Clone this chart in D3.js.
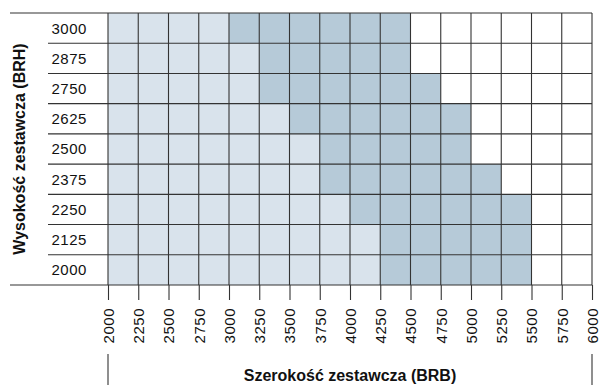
<!DOCTYPE html>
<html>
<head>
<meta charset="utf-8">
<script src="https://cdn.jsdelivr.net/npm/d3@7"></script>
<style>
  html, body { margin: 0; padding: 0; background: #fff; }
  svg { display: block; }
  .lbl { font-family: "Liberation Sans", Arial, Helvetica, sans-serif; font-size: 15px; letter-spacing: 0.5px; fill: #111; }
  .ttl { font-family: "Liberation Sans", Arial, Helvetica, sans-serif; font-size: 16px; font-weight: bold; fill: #111; }
</style>
</head>
<body>
<svg id="chart" width="600" height="385"></svg>
<script>
// Heights (BRH), listed top row first
const heights = [3000, 2875, 2750, 2625, 2500, 2375, 2250, 2125, 2000];
// Width tick labels (BRB)
const widthTicks = [2000, 2250, 2500, 2750, 3000, 3250, 3500, 3750, 4000,
                    4250, 4500, 4750, 5000, 5250, 5500, 5750, 6000];
// For each height: widths up to which the standard range (light) reaches
const standardMax = [3000, 3250, 3250, 3500, 3750, 3750, 4000, 4250, 4250];
// For each height: widths up to which the extended range (dark) reaches
const extendedMax = [4500, 4500, 4750, 5000, 5000, 5250, 5500, 5500, 5500];

const colors = { standard: "#d9e3ec", extended: "#b6cad8" };
const lineColor = "#333";

const svg = d3.select("#chart");

const gridTop = 13, gridBottom = 285;
const x = d3.scaleLinear().domain([2000, 6000]).range([108, 592]);
const y = d3.scaleBand().domain(heights).range([gridTop, gridBottom]).padding(0);

// Cells
const cells = [];
heights.forEach((h, i) => {
  for (let k = 0; k < widthTicks.length - 1; k++) {
    const w0 = widthTicks[k], w1 = widthTicks[k + 1];
    let kind = null;
    if (w1 <= standardMax[i]) kind = "standard";
    else if (w1 <= extendedMax[i]) kind = "extended";
    if (kind) cells.push({ h, w0, w1, kind });
  }
});

svg.append("g").selectAll("rect")
  .data(cells)
  .join("rect")
  .attr("x", d => x(d.w0))
  .attr("y", d => y(d.h))
  .attr("width", d => x(d.w1) - x(d.w0))
  .attr("height", y.bandwidth())
  .attr("fill", d => colors[d.kind]);

// Horizontal row lines: outer ones span the label column too
const rowEdges = heights.map(h => y(h)).concat([gridBottom]);
svg.append("g").selectAll("line")
  .data(rowEdges)
  .join("line")
  .attr("x1", (d, i) => (i === 0 || i === rowEdges.length - 1) ? 10 : 48)
  .attr("x2", x(6000))
  .attr("y1", d => d)
  .attr("y2", d => d)
  .attr("stroke", lineColor)
  .attr("stroke-width", 1.1);

// Vertical column lines from the top edge down to the ticks
svg.append("g").selectAll("line")
  .data(widthTicks)
  .join("line")
  .attr("x1", d => x(d))
  .attr("x2", d => x(d))
  .attr("y1", gridTop)
  .attr("y2", gridBottom)
  .attr("stroke", lineColor)
  .attr("stroke-width", 1.1);

// Bottom axis with rotated labels
const xAxis = svg.append("g")
  .attr("transform", `translate(0,${gridBottom})`)
  .call(d3.axisBottom(x).tickValues(widthTicks).tickFormat(d3.format("d"))
        .tickSizeInner(15).tickSizeOuter(0).tickPadding(0));
xAxis.select(".domain").remove();
xAxis.selectAll(".tick line").attr("stroke", lineColor).attr("stroke-width", 1.1);
xAxis.selectAll(".tick text")
  .attr("class", "lbl")
  .attr("font-size", null).attr("font-family", null)
  .attr("transform", "rotate(-90)")
  .attr("text-anchor", "end")
  .attr("x", -23)
  .attr("y", 0)
  .attr("dy", "0.35em");

// Left axis: row labels
const yAxis = svg.append("g")
  .attr("transform", "translate(48,0)")
  .call(d3.axisRight(y).tickSizeInner(0).tickSizeOuter(0).tickPadding(3.5));
yAxis.select(".domain").remove();
yAxis.selectAll(".tick line").remove();
yAxis.selectAll(".tick text")
  .attr("class", "lbl")
  .attr("font-size", null).attr("font-family", null)
  .attr("dy", "0.36em");

// Bracket marks under the axis ends
svg.append("g").selectAll("line")
  .data([2000, 6000])
  .join("line")
  .attr("x1", d => x(d)).attr("x2", d => x(d))
  .attr("y1", 354).attr("y2", 385)
  .attr("stroke", lineColor)
  .attr("stroke-width", 1.1);

// Axis titles
svg.append("text")
  .attr("class", "ttl")
  .attr("x", (x(2000) + x(6000)) / 2)
  .attr("y", 381)
  .attr("text-anchor", "middle")
  .text("Szerokość zestawcza (BRB)");

svg.append("text")
  .attr("class", "ttl")
  .attr("transform", `translate(25,${(gridTop + gridBottom) / 2}) rotate(-90)`)
  .attr("text-anchor", "middle")
  .text("Wysokość zestawcza (BRH)");
</script>
</body>
</html>
